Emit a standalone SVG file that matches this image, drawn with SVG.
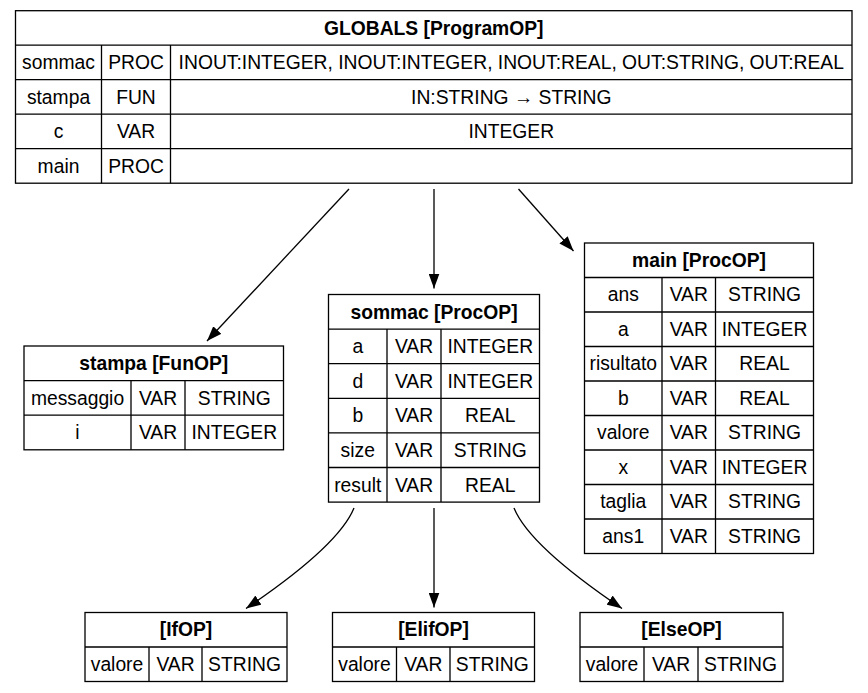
<svg xmlns="http://www.w3.org/2000/svg" width="868" height="693" viewBox="0 0 868 693">
<style>
.b{fill:#fff;stroke:#000;stroke-width:1.3}
.l{stroke:#000;stroke-width:1.3;fill:none}
.t{font-family:"Liberation Sans",Arial,sans-serif;font-size:19.3px;text-anchor:middle;fill:#000}
.h{font-weight:bold}
.e{fill:none;stroke:#000;stroke-width:1.3;marker-end:url(#arr)}
</style>
<defs>
<marker id="arr" markerUnits="userSpaceOnUse" markerWidth="15" markerHeight="11" viewBox="0 0 15 11" refX="15" refY="5.5" orient="auto">
<path d="M0,0 L15,5.5 L0,11 z" fill="#000"/>
</marker>
</defs>
<rect width="868" height="693" fill="#fff"/>

<g id="edges">
<path class="e" d="M349,189 L207,341"/>
<path class="e" d="M434,189 L434,288.5"/>
<path class="e" d="M518.5,189 L573.5,251"/>
<path class="e" d="M354,508 C343,535 300,572 246,608.5"/>
<path class="e" d="M434,508 L434,607.5"/>
<path class="e" d="M514,508 C525,535 568,572 622,608.5"/>
</g>

<g id="globals">
<rect class="b" x="15.5" y="10.7" width="836.5" height="172.5"/>
<path class="l" d="M15.5,45.2H852M15.5,79.7H852M15.5,114.2H852M15.5,148.7H852M101.5,45.2V183.2M170.5,45.2V183.2"/>
<text class="t h" x="433.75" y="34.7">GLOBALS [ProgramOP]</text>
<text class="t" x="58.5" y="69.2">sommac</text>
<text class="t" x="136" y="69.2">PROC</text>
<text class="t" x="511.25" y="69.2">INOUT:INTEGER, INOUT:INTEGER, INOUT:REAL, OUT:STRING, OUT:REAL</text>
<text class="t" x="58.5" y="103.7">stampa</text>
<text class="t" x="136" y="103.7">FUN</text>
<text class="t" x="511.25" y="103.7">IN:STRING → STRING</text>
<text class="t" x="58.5" y="138.2">c</text>
<text class="t" x="136" y="138.2">VAR</text>
<text class="t" x="511.25" y="138.2">INTEGER</text>
<text class="t" x="58.5" y="172.7">main</text>
<text class="t" x="136" y="172.7">PROC</text>
</g>

<g id="stampa">
<rect class="b" x="24" y="346" width="259.5" height="103.8"/>
<path class="l" d="M24,380.6H283.5M24,415.2H283.5M131,380.6V449.8M185,380.6V449.8"/>
<text class="t h" x="153.75" y="370">stampa [FunOP]</text>
<text class="t" x="77.5" y="404.6">messaggio</text>
<text class="t" x="158" y="404.6">VAR</text>
<text class="t" x="234.25" y="404.6">STRING</text>
<text class="t" x="77.5" y="439.2">i</text>
<text class="t" x="158" y="439.2">VAR</text>
<text class="t" x="234.25" y="439.2">INTEGER</text>
</g>

<g id="sommac">
<rect class="b" x="328.5" y="294.5" width="211" height="207.6"/>
<path class="l" d="M328.5,329.1H539.5M328.5,363.7H539.5M328.5,398.3H539.5M328.5,432.9H539.5M328.5,467.5H539.5M387,329.1V502.1M441,329.1V502.1"/>
<text class="t h" x="434" y="318.5">sommac [ProcOP]</text>
<text class="t" x="357.75" y="353.1">a</text>
<text class="t" x="414" y="353.1">VAR</text>
<text class="t" x="490.25" y="353.1">INTEGER</text>
<text class="t" x="357.75" y="387.7">d</text>
<text class="t" x="414" y="387.7">VAR</text>
<text class="t" x="490.25" y="387.7">INTEGER</text>
<text class="t" x="357.75" y="422.3">b</text>
<text class="t" x="414" y="422.3">VAR</text>
<text class="t" x="490.25" y="422.3">REAL</text>
<text class="t" x="357.75" y="456.9">size</text>
<text class="t" x="414" y="456.9">VAR</text>
<text class="t" x="490.25" y="456.9">STRING</text>
<text class="t" x="357.75" y="491.5">result</text>
<text class="t" x="414" y="491.5">VAR</text>
<text class="t" x="490.25" y="491.5">REAL</text>
</g>

<g id="main">
<rect class="b" x="584.5" y="243" width="229" height="310.5"/>
<path class="l" d="M584.5,277.5H813.5M584.5,312H813.5M584.5,346.5H813.5M584.5,381H813.5M584.5,415.5H813.5M584.5,450H813.5M584.5,484.5H813.5M584.5,519H813.5M662,277.5V553.5M715.5,277.5V553.5"/>
<text class="t h" x="699" y="266.95">main [ProcOP]</text>
<text class="t" x="623.25" y="301.45">ans</text>
<text class="t" x="688.75" y="301.45">VAR</text>
<text class="t" x="764.5" y="301.45">STRING</text>
<text class="t" x="623.25" y="335.95">a</text>
<text class="t" x="688.75" y="335.95">VAR</text>
<text class="t" x="764.5" y="335.95">INTEGER</text>
<text class="t" x="623.25" y="370.45">risultato</text>
<text class="t" x="688.75" y="370.45">VAR</text>
<text class="t" x="764.5" y="370.45">REAL</text>
<text class="t" x="623.25" y="404.95">b</text>
<text class="t" x="688.75" y="404.95">VAR</text>
<text class="t" x="764.5" y="404.95">REAL</text>
<text class="t" x="623.25" y="439.45">valore</text>
<text class="t" x="688.75" y="439.45">VAR</text>
<text class="t" x="764.5" y="439.45">STRING</text>
<text class="t" x="623.25" y="473.95">x</text>
<text class="t" x="688.75" y="473.95">VAR</text>
<text class="t" x="764.5" y="473.95">INTEGER</text>
<text class="t" x="623.25" y="508.45">taglia</text>
<text class="t" x="688.75" y="508.45">VAR</text>
<text class="t" x="764.5" y="508.45">STRING</text>
<text class="t" x="623.25" y="542.95">ans1</text>
<text class="t" x="688.75" y="542.95">VAR</text>
<text class="t" x="764.5" y="542.95">STRING</text>
</g>

<g id="ifop">
<rect class="b" x="85" y="612.5" width="202" height="69"/>
<path class="l" d="M85,647H287M149,647V681.5M202,647V681.5"/>
<text class="t h" x="186" y="636.45">[IfOP]</text>
<text class="t" x="117" y="670.95">valore</text>
<text class="t" x="175.5" y="670.95">VAR</text>
<text class="t" x="244.5" y="670.95">STRING</text>
</g>

<g id="elifop">
<rect class="b" x="332.5" y="612.5" width="202" height="69"/>
<path class="l" d="M332.5,647H534.5M396.5,647V681.5M450,647V681.5"/>
<text class="t h" x="433.5" y="636.45">[ElifOP]</text>
<text class="t" x="364.5" y="670.95">valore</text>
<text class="t" x="423.25" y="670.95">VAR</text>
<text class="t" x="492.25" y="670.95">STRING</text>
</g>

<g id="elseop">
<rect class="b" x="580" y="612.5" width="203" height="69"/>
<path class="l" d="M580,647H783M644,647V681.5M698,647V681.5"/>
<text class="t h" x="681.5" y="636.45">[ElseOP]</text>
<text class="t" x="612" y="670.95">valore</text>
<text class="t" x="671" y="670.95">VAR</text>
<text class="t" x="740.5" y="670.95">STRING</text>
</g>
</svg>
